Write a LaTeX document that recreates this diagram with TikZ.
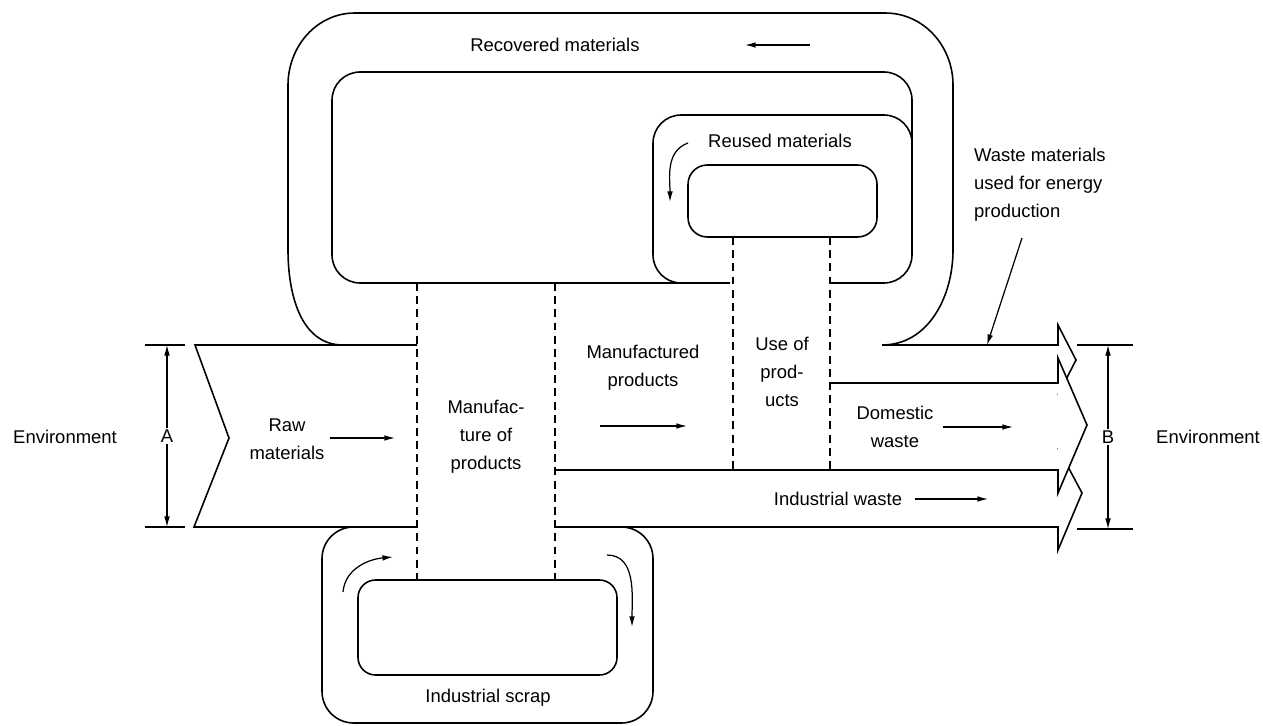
\documentclass[tikz,border=0pt]{standalone}
\usepackage{fontspec}
\setmainfont{Liberation Sans}
\usetikzlibrary{arrows.meta}

\begin{document}
\begin{tikzpicture}[x=0.02cm, y=-0.02cm,
  pipe/.style={line width=0.9pt, black},
  cut/.style={line width=0.6pt, black, dash pattern=on 4.5pt off 3pt},
  flow/.style={line width=0.7pt, -{Latex[length=6pt,width=3.2pt]}},
  dimline/.style={line width=0.6pt, {Latex[length=6pt,width=3.2pt]}-{Latex[length=6pt,width=3.2pt]}},
  lbl/.style={font=\fontsize{10.5}{16}\selectfont, align=center, inner sep=1pt}]

\useasboundingbox (0,0) rectangle (1263,726);

\coordinate (rawTL) at (195,345);
\coordinate (rawTip) at (229,438);
\coordinate (rawBL) at (194,527);
\coordinate (tipE) at (1076,360);
\coordinate (tipD) at (1087,425);
\coordinate (tipI) at (1082,493);

% raw materials in
\draw[pipe] (417,345) -- (rawTL) -- (rawTip) -- (rawBL) -- (417,527);

% recovered loop
\draw[pipe] (343,345) to[out=180,in=-90] (288,250) -- (288,85) to[out=90,in=180] (355,13)
  -- (885,13) to[out=0,in=90] (953,85) -- (953,250) to[out=-90,in=0] (882,345);
\draw[pipe, rounded corners=16pt] (730,283) -- (332,283) -- (332,72) -- (912,72) -- (912,160);

% reused loop
\draw[pipe, rounded corners=16pt] (830,283) -- (912,283) -- (912,115) -- (653,115) -- (653,283) -- (700,283);
\draw[pipe, rounded corners=11pt] (688,165) rectangle (877,237);

% industrial scrap loop
\draw[pipe, rounded corners=18pt] (330,527) -- (322,527) -- (322,723) -- (653,723) -- (653,527) -- (600,527);
\draw[pipe, rounded corners=10pt] (358,580) rectangle (617,675);

% column boundaries
\draw[cut] (417,283) -- (417,580);
\draw[cut] (555,283) -- (555,580);
\draw[cut] (733,237) -- (733,470);
\draw[cut] (830,237) -- (830,470);

% outgoing arrows
\draw[pipe] (882,345) -- (1058,345) -- (1058,325) -- (tipE) -- (1058,395);
\draw[pipe] (555,527) -- (1058,527) -- (1058,550) -- (tipI) -- (1058,448);
\fill[white] (1058,383) -- (1058,358) -- (tipD) -- (1058,493) -- cycle;
\draw[pipe] (830,383) -- (1058,383) -- (1058,358) -- (tipD) -- (1058,493) -- (1058,470) -- (555,470);

% dimensions
\draw[line width=0.6pt] (145,345) -- (185,345);
\draw[line width=0.6pt] (145,527) -- (185,527);
\draw[dimline] (167,345) -- node[lbl, fill=white] (dimA) {A} (167,527);
\draw[line width=0.6pt] (1077,345) -- (1133,345);
\draw[line width=0.6pt] (1077,529) -- (1133,529);
\draw[dimline] (1108,345) -- node[lbl, fill=white] (dimB) {B} (1108,529);

% direction arrows
\draw[flow] (330,438) -- (395,438);
\draw[flow] (600,426) -- (687,426);
\draw[flow] (943,427) -- (1013,427);
\draw[flow] (915,499) -- (988,499);
\draw[flow] (810,45) -- (745,45);
\draw[flow] (688,143) to[out=200,in=90] (670,202);
\draw[flow] (343,592) to[out=85,in=185] (393,557);
\draw[flow] (607,555) to[out=0,in=90] (632,627);

% labels
\node[lbl] (envL) at (65,437) {Environment};
\node[lbl] (envR) at (1208,437) {Environment};
\node[lbl] (raw) at (287,439) {Raw\\materials};
\node[lbl] (mfg) at (486,437) {Manufac-\\ture of\\products};
\node[lbl] (mprod) at (643,368) {Manufactured\\products};
\node[lbl] (use) at (782,372) {Use of\\prod-\\ucts};
\node[lbl] (dom) at (895,427) {Domestic\\waste};
\node[lbl] (indw) at (838,499) {Industrial waste};
\node[lbl] (scrap) at (488,698) {Industrial scrap};
\node[lbl] (recov) at (555,45) {Recovered materials};
\node[lbl] (reuse) at (780,141) {Reused materials};
\node[lbl, align=left, anchor=north west] (energy) at (972,146) {Waste materials\\used for energy\\production};

\coordinate (energyFrom) at (1022,238);
\coordinate (energyTo) at (987,345);
\draw[flow] (energyFrom) -- (energyTo);

\end{tikzpicture}
\end{document}
